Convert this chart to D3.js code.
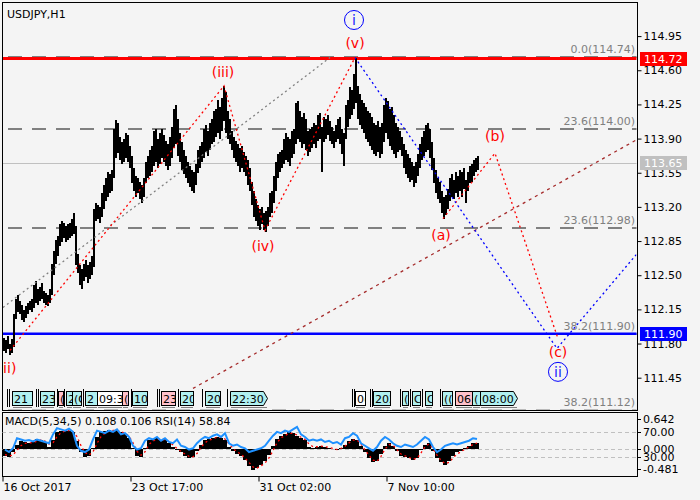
<!DOCTYPE html>
<html><head><meta charset="utf-8">
<script src="https://cdn.jsdelivr.net/npm/d3@7"></script>
<style>
html,body{margin:0;padding:0;background:#f4f4f4;}
svg{display:block;font-family:"DejaVu Sans",sans-serif;}
</style></head><body>
<svg id="chart" width="700" height="500"></svg>
<script>
// ---------------- data ----------------
const chartTitle = "USDJPY,H1";
// 2-hour price bars from 16 Oct 2017 (lows / highs)
const barLow = [
111.72,111.70,111.74,111.68,111.70,111.76,112.05,112.12,112.10,112.04,
112.02,112.06,112.10,112.14,112.12,112.16,112.22,112.20,112.24,112.26,
112.22,112.20,112.18,112.22,112.30,112.50,112.62,112.70,112.80,112.84,
112.88,112.84,112.86,112.88,112.90,112.92,112.60,112.52,112.40,112.36,
112.44,112.48,112.42,112.46,112.50,112.58,113.06,113.08,113.04,113.10,
113.18,113.26,113.30,113.34,113.36,113.50,113.70,113.75,113.68,113.64,
113.66,113.70,113.66,113.60,113.44,113.36,113.30,113.34,113.28,113.24,
113.30,113.44,113.50,113.52,113.56,113.62,113.66,113.60,113.64,113.70,
113.66,113.62,113.58,113.62,113.70,113.80,113.84,113.72,113.66,113.58,
113.54,113.50,113.44,113.40,113.36,113.34,113.42,113.55,113.60,113.66,
113.70,113.76,113.72,113.78,113.84,113.86,113.92,113.96,113.90,113.98,
114.08,113.96,113.90,113.84,113.78,113.70,113.66,113.62,113.56,113.60,
113.56,113.52,113.42,113.36,113.22,113.10,113.06,113.00,112.96,113.02,
112.96,112.94,113.00,113.10,113.14,113.24,113.36,113.50,113.56,113.60,
113.64,113.68,113.66,113.62,113.70,113.74,113.84,113.90,113.86,113.80,
113.84,113.78,113.72,113.76,113.80,113.84,113.80,113.88,113.90,113.56,
113.86,113.90,113.94,113.88,113.84,113.80,113.86,113.90,113.84,113.74,
113.62,113.90,114.02,114.10,114.14,114.20,114.26,114.10,114.04,114.00,
113.96,113.90,113.86,113.82,113.78,113.74,113.72,113.76,113.70,113.74,
113.86,113.96,113.90,113.82,113.78,113.74,113.70,113.76,113.78,113.72,
113.60,113.54,113.50,113.46,113.48,113.40,113.44,113.52,113.60,113.68,
113.72,113.76,113.78,113.70,113.58,113.44,113.34,113.28,113.24,113.14,
113.08,113.12,113.18,113.26,113.30,113.28,113.34,113.30,113.36,113.30,
113.38,113.24,113.36,113.44,113.46,113.52,113.56,113.58];
const barHigh = [
111.86,111.84,111.88,111.80,111.85,112.10,112.26,112.30,112.24,112.20,
112.14,112.18,112.22,112.24,112.26,112.40,112.44,112.36,112.38,112.42,
112.34,112.32,112.30,112.36,112.62,112.75,112.86,112.90,113.02,113.06,
113.04,113.00,113.02,113.04,113.08,113.14,113.00,112.72,112.60,112.56,
112.62,112.66,112.60,112.64,112.70,113.18,113.24,113.22,113.20,113.34,
113.42,113.50,113.56,113.54,113.58,114.00,114.09,114.06,113.92,113.86,
113.90,113.96,113.94,113.82,113.72,113.60,113.52,113.50,113.46,113.42,
113.50,113.66,113.72,113.78,113.82,113.98,114.00,113.90,113.96,114.00,
113.94,113.88,113.84,113.92,114.02,114.20,114.24,114.10,113.96,113.86,
113.78,113.72,113.66,113.62,113.58,113.56,113.64,113.78,113.82,113.86,
114.00,114.04,113.98,114.06,114.10,114.18,114.20,114.30,114.22,114.32,
114.44,114.38,114.18,114.10,113.98,113.92,113.88,113.84,113.80,113.82,
113.76,113.72,113.68,113.60,113.46,113.36,113.28,113.22,113.18,113.20,
113.14,113.16,113.20,113.34,113.36,113.52,113.66,113.74,113.76,113.78,
113.90,113.96,113.92,113.90,113.98,114.00,114.26,114.28,114.18,114.12,
114.16,114.10,113.98,114.00,114.02,114.06,114.04,114.14,114.16,114.02,
114.12,114.10,114.14,114.08,114.02,113.98,114.04,114.10,114.12,114.00,
113.96,114.24,114.30,114.43,114.40,114.56,114.73,114.44,114.36,114.30,
114.26,114.22,114.18,114.16,114.12,114.06,114.04,114.08,114.02,114.06,
114.24,114.32,114.28,114.20,114.22,114.14,114.06,114.02,113.98,113.92,
113.84,113.78,113.74,113.70,113.66,113.62,113.66,113.74,113.84,113.92,
113.98,114.04,114.06,114.00,113.86,113.70,113.58,113.50,113.46,113.36,
113.30,113.32,113.38,113.50,113.54,113.48,113.56,113.52,113.58,113.56,
113.60,113.48,113.56,113.62,113.64,113.68,113.70,113.72];
const lastPrice = 113.65;

// 4-hour oscillator samples
const macdMain = [
-0.12,-0.14,-0.06,0.08,0.14,0.12,0.10,0.12,0.18,0.16,
0.12,0.04,0.16,0.30,0.33,0.34,0.32,0.30,0.14,-0.06,
-0.14,-0.12,0.02,0.22,0.30,0.32,0.34,0.33,0.34,0.30,
0.26,0.20,0.02,-0.12,-0.14,0.02,0.16,0.18,0.20,0.16,
0.18,0.10,0.04,-0.02,-0.06,-0.12,-0.16,-0.14,-0.04,0.08,
0.16,0.18,0.20,0.22,0.20,0.16,0.04,-0.04,-0.08,-0.12,
-0.20,-0.30,-0.37,-0.34,-0.28,-0.22,-0.10,0.06,0.18,0.24,
0.26,0.30,0.28,0.24,0.20,0.16,0.04,0.02,0.04,0.06,
0.04,0.02,0.00,-0.02,0.02,0.08,0.14,0.18,0.16,0.06,
-0.06,-0.16,-0.24,-0.22,-0.08,0.06,0.10,0.06,-0.04,-0.12,
-0.14,-0.16,-0.20,-0.16,-0.02,0.08,0.10,-0.04,-0.16,-0.24,
-0.28,-0.22,-0.12,-0.06,-0.04,0.02,0.06,0.10,0.108];
const macdSignal = [
-0.10,-0.12,-0.11,-0.02,0.06,0.10,0.11,0.11,0.14,0.16,
0.14,0.09,0.11,0.22,0.29,0.32,0.33,0.31,0.22,0.06,
-0.06,-0.11,-0.05,0.10,0.22,0.28,0.32,0.33,0.33,0.31,
0.28,0.23,0.11,-0.04,-0.11,-0.05,0.08,0.14,0.18,0.17,
0.17,0.13,0.07,0.01,-0.04,-0.09,-0.13,-0.14,-0.08,0.03,
0.11,0.16,0.18,0.21,0.21,0.18,0.09,0.01,-0.05,-0.09,
-0.16,-0.24,-0.32,-0.34,-0.30,-0.25,-0.16,-0.03,0.11,0.20,
0.24,0.28,0.28,0.25,0.21,0.17,0.09,0.04,0.04,0.05,
0.04,0.03,0.01,-0.01,0.01,0.05,0.11,0.16,0.16,0.09,
-0.02,-0.11,-0.20,-0.22,-0.13,0.00,0.08,0.07,-0.01,-0.09,
-0.12,-0.15,-0.18,-0.17,-0.07,0.04,0.09,0.01,-0.11,-0.20,
-0.26,-0.24,-0.16,-0.09,-0.05,0.00,0.04,0.08,0.106];
const rsiValues = [
42,38,44,60,58,56,57,55,58,56,
54,52,66,76,74,72,75,70,48,40,
38,42,58,72,70,68,72,70,74,66,
68,62,48,42,44,56,60,58,62,56,
60,54,52,58,48,46,42,44,52,58,
62,60,64,66,62,68,52,48,50,46,
44,38,40,42,44,48,56,64,70,68,
72,70,74,78,66,62,56,58,56,58,
54,56,52,54,50,60,62,68,64,52,
48,44,40,46,56,62,58,52,48,46,
50,48,46,50,56,62,58,46,38,42,
48,50,52,50,52,54,56,60,58.84];

// price axis
const priceTicks = [111.45,111.80,112.15,112.50,112.85,113.20,113.55,113.90,114.25,114.60,114.95];
// time axis (hour offsets from the first bar)
const timeTickHours = [0,128,256,384];
const timeTickLabels = ["16 Oct 2017","23 Oct 17:00","31 Oct 02:00","7 Nov 10:00"];

// Fibonacci levels
const fibLevels = [114.74,114.00,112.98,111.90,111.12];
const fibLabels = ["0.0(114.74)","23.6(114.00)","23.6(112.98)","38.2(111.90)","38.2(111.12)"];
const resistanceLevel = 114.72;
const supportLevel = 111.90;

// wave paths as [hour, price]
const impulseWaves = [[8,111.73],[222,114.44],[263,112.96],[353,114.73]];
const abcWaves = [[441,113.08],[493,113.75],[556,111.85]];
const majorWaves = [[353,114.73],[555,111.75],[635,112.72]];
const channelLine = [[1,112.17],[328,114.73]];
const trendLine = [[191,111.34],[635,113.89]];

// wave labels [hour, price, text]
const waveLabels = [
  [5,111.55,"(ii)"],[221,114.58,"(iii)"],[261,112.80,"(iv)"],[353,114.88,"(v)"],
  [439,112.91,"(a)"],[493,113.93,"(b)"],[556,111.71,"(c)"]];
const circleLabels = [[352,115.115,"i"],[556,111.51,"ii"]];

// time-marker tags along the bottom of the price pane
const markerLines = [7,9,36,38,57,64,83,131,157,159,178,202,227,352,354,370,372,400,410,422,440];
const markerTags = [
  [12,20,"21","c"],[40,14,"23","c"],[58,5,"(","p"],[66,6,"2(","c"],[72,9,"(C","c"],
  [85,12,"2","c"],[97,25,"09:3","w"],[122,6,"(","p"],[132,15,"10:","c"],[161,14,"23","p"],
  [180,13,"202","c"],[205,15,"202","c"],[230,37,"22:30","c"],
  [355,10,"0(","w"],[373,17,"202","c"],[402,6,"(C","c"],[412,8,"C(","c"],[425,7,"C","c"],
  [442,10,"((","c"],[455,17,"06:","p"],[472,8,"(","c"],[480,37,"08:00","c"]];
const tagFill = {c:"#b0f0f0", p:"#ffc0cb", w:"#ffffff"};

// ---------------- drawing ----------------
const svg = d3.select("#chart");
const pane = {left:2, right:637, top:2, bottom:410};
const subPane = {top:412, bottom:476};

const x = d3.scaleLinear().domain([0,635]).range([2,637]);
const y = d3.scaleLinear().domain([111.45,114.95]).range([377.7,36.1]);
const ym = d3.scaleLinear().domain([-0.481,0.642]).range([476,413]);
const yr = d3.scaleLinear().domain([0,100]).range([476,413]);

svg.append("rect").attr("width",700).attr("height",500).attr("fill","#f4f4f4");

const defs = svg.append("defs");
defs.append("clipPath").attr("id","mainClip").append("rect")
  .attr("x",pane.left+0.5).attr("y",pane.top+0.5)
  .attr("width",pane.right-pane.left-1).attr("height",pane.bottom-pane.top-1);
defs.append("clipPath").attr("id","subClip").append("rect")
  .attr("x",pane.left+0.5).attr("y",subPane.top+0.5)
  .attr("width",pane.right-pane.left-1).attr("height",subPane.bottom-subPane.top-1);

const main = svg.append("g").attr("clip-path","url(#mainClip)");

// Fibonacci dashed levels
main.selectAll("line.fib").data(fibLevels).join("line")
  .attr("x1",pane.left+6).attr("x2",pane.right)
  .attr("y1",d=>Math.round(y(d))).attr("y2",d=>Math.round(y(d)))
  .attr("stroke","#808080").attr("stroke-width",2).attr("stroke-dasharray","14,10");
main.selectAll("text.fib").data(fibLevels).join("text")
  .attr("x",pane.right-2).attr("y",d=>Math.round(y(d))-4)
  .attr("text-anchor","end").attr("font-size",11).attr("fill","#808080")
  .text((d,i)=>fibLabels[i]);

// last price line
main.append("line").attr("x1",pane.left).attr("x2",pane.right)
  .attr("y1",Math.round(y(lastPrice))+0.5).attr("y2",Math.round(y(lastPrice))+0.5)
  .attr("stroke","#c0c0c0").attr("stroke-width",1);

// resistance / support
const rY = Math.round(y(resistanceLevel)) - 0.5;
main.append("line").attr("x1",pane.left).attr("x2",pane.right)
  .attr("y1",rY).attr("y2",rY)
  .attr("stroke","#ff0000").attr("stroke-width",3);
main.append("line").attr("x1",pane.left).attr("x2",pane.right)
  .attr("y1",y(supportLevel)).attr("y2",y(supportLevel))
  .attr("stroke","#0000ff").attr("stroke-width",2.5);

// price bars
main.append("g").selectAll("rect").data(barLow).join("rect")
  .attr("x",(d,i)=>x(1+2*i)).attr("width",x(3)-x(1))
  .attr("y",(d,i)=>y(barHigh[i])).attr("height",(d,i)=>Math.max(1,y(d)-y(barHigh[i])))
  .attr("fill","#000").attr("shape-rendering","crispEdges");

// wave lines
const ln = d3.line().x(d=>x(d[0])).y(d=>y(d[1]));
function dotted(data,color,dash){
  main.append("path").attr("d",ln(data)).attr("fill","none")
    .attr("stroke",color).attr("stroke-width",1.3).attr("stroke-dasharray",dash);
}
dotted(channelLine,"#808080","2,3");
dotted(trendLine,"#a52a2a","3,4");
dotted(impulseWaves,"#ff0000","2,3");
dotted(abcWaves,"#ff0000","2,3");
dotted(majorWaves,"#0000ff","2,3");

// wave labels
main.selectAll("text.wave").data(waveLabels).join("text")
  .attr("x",d=>x(d[0])).attr("y",d=>y(d[1])).attr("dy","0.35em")
  .attr("text-anchor","middle").attr("font-size",14).attr("fill","#ff0000").text(d=>d[2]);
const circ = main.selectAll("g.circ").data(circleLabels).join("g")
  .attr("transform",d=>`translate(${x(d[0])},${y(d[1])})`);
circ.append("circle").attr("r",9.5).attr("fill","none").attr("stroke","#0000ff").attr("stroke-width",1);
circ.append("text").attr("dy","0.36em").attr("text-anchor","middle")
  .attr("font-size",14).attr("fill","#1a1aff").text(d=>d[2]);

// title
svg.append("text").attr("x",7).attr("y",18).attr("font-size",11).attr("fill","#000").text(chartTitle);

// time-marker tags
const tags = svg.append("g");
tags.selectAll("line").data(markerLines).join("line")
  .attr("x1",d=>d+0.5).attr("x2",d=>d+0.5).attr("y1",389).attr("y2",407)
  .attr("stroke","#000").attr("stroke-width",1);
markerTags.forEach((t,i)=>{
  const [tx,tw,tt,tf] = t;
  const cid = "tagclip"+i;
  defs.append("clipPath").attr("id",cid).append("rect").attr("x",tx).attr("y",390).attr("width",tw).attr("height",16);
  const g = tags.append("g");
  if (tt.length===5){
    g.append("path").attr("d",`M${tx+0.5},391.5H${tx+tw-3.5}L${tx+tw+0.5},398.5L${tx+tw-3.5},405.5H${tx+0.5}Z`)
      .attr("fill",tagFill[tf]).attr("stroke","#000");
    g.append("text").attr("x",tx+2).attr("y",402.5).attr("font-size",11).text(tt);
  } else {
    g.append("rect").attr("x",tx+0.5).attr("y",391.5).attr("width",tw).attr("height",14)
      .attr("fill",tagFill[tf]).attr("stroke","#000");
    g.append("text").attr("x",tx+2).attr("y",402.5).attr("font-size",11).attr("clip-path",`url(#${cid})`).text(tt);
  }
  g.append("line").attr("x1",tx+1).attr("x2",tx+tw).attr("y1",407.5).attr("y2",407.5).attr("stroke","#808080");
});

// pane frames
svg.append("rect").attr("x",pane.left+0.5).attr("y",pane.top+0.5)
  .attr("width",pane.right-pane.left).attr("height",pane.bottom-pane.top)
  .attr("fill","none").attr("stroke","#000");
svg.append("rect").attr("x",pane.left+0.5).attr("y",subPane.top+0.5)
  .attr("width",pane.right-pane.left).attr("height",subPane.bottom-subPane.top)
  .attr("fill","none").attr("stroke","#000");

// price axis
const yAxis = d3.axisRight(y).tickValues(priceTicks).tickSize(4).tickPadding(2).tickFormat(d3.format(".2f"));
const ag = svg.append("g").attr("transform",`translate(${pane.right+0.5},0)`).call(yAxis);
ag.select(".domain").remove();
ag.selectAll("line").attr("stroke","#000");
ag.selectAll("text").attr("font-size",11).attr("font-family","DejaVu Sans").attr("fill","#000");

// price tags on the axis
function priceTag(v,fill){
  const yy = Math.round(y(v));
  svg.append("rect").attr("x",640).attr("y",yy-7).attr("width",47).attr("height",14).attr("fill",fill);
  svg.append("text").attr("x",644).attr("y",yy).attr("dy","0.35em").attr("font-size",11)
    .attr("fill","#fff").text(v.toFixed(2));
}
priceTag(resistanceLevel,"#ff0000");
priceTag(lastPrice,"#c0c0c0");
priceTag(supportLevel,"#0000ff");

// ---------------- oscillator pane ----------------
const sub = svg.append("g").attr("clip-path","url(#subClip)");
[70,30].forEach(v=>{
  sub.append("line").attr("x1",pane.left).attr("x2",pane.right)
    .attr("y1",Math.round(yr(v))+0.5).attr("y2",Math.round(yr(v))+0.5)
    .attr("stroke","#c0c0c0").attr("stroke-dasharray","4,3");
});
sub.append("line").attr("x1",pane.left).attr("x2",pane.right)
  .attr("y1",Math.round(ym(0))+0.5).attr("y2",Math.round(ym(0))+0.5)
  .attr("stroke","#c0c0c0").attr("stroke-dasharray","4,3");

sub.append("g").selectAll("rect").data(macdMain).join("rect")
  .attr("x",(d,i)=>x(1+4*i)).attr("width",x(5)-x(1))
  .attr("y",d=>Math.min(ym(d),ym(0))).attr("height",d=>Math.abs(ym(d)-ym(0)))
  .attr("fill","#000").attr("shape-rendering","crispEdges");
const sl = d3.line().x((d,i)=>x(3+4*i)).y(d=>ym(d));
sub.append("path").attr("d",sl(macdSignal)).attr("fill","none")
  .attr("stroke","#ff0000").attr("stroke-width",1.3).attr("stroke-dasharray","2,3");
const rl = d3.line().x((d,i)=>x(3+4*i)).y(d=>yr(d));
sub.append("path").attr("d",rl(rsiValues)).attr("fill","none")
  .attr("stroke","#1e90ff").attr("stroke-width",2);

svg.append("text").attr("x",5).attr("y",425).attr("font-size",11)
  .text(`MACD(5,34,5) ${macdMain[macdMain.length-1].toFixed(3)} ${macdSignal[macdSignal.length-1].toFixed(3)} RSI(14) ${rsiValues[rsiValues.length-1].toFixed(2)}`);

// oscillator axis labels
const subTicks = [[ym(0.642)+6,"0.642"],[yr(70),"70.00"],[ym(0),"0.000"],[yr(30),"30.00"],[ym(-0.481)-7,"-0.481"]];
subTicks.forEach(([yy,t])=>{
  svg.append("line").attr("x1",pane.right).attr("x2",pane.right+4)
    .attr("y1",Math.round(yy)+0.5).attr("y2",Math.round(yy)+0.5).attr("stroke","#000");
  svg.append("text").attr("x",643).attr("y",yy).attr("dy","0.35em").attr("font-size",11).text(t);
});

// time axis
const xAxis = d3.axisBottom(x).tickValues(timeTickHours).tickSize(5)
  .tickFormat((d,i)=>timeTickLabels[i]);
const xg = svg.append("g").attr("transform",`translate(0,${subPane.bottom+0.5})`).call(xAxis);
xg.select(".domain").remove();
xg.selectAll("line").attr("stroke","#000").attr("transform","translate(0.5,0)");
xg.selectAll("text").attr("text-anchor","start").attr("x",1).attr("y",7)
  .attr("font-size",11).attr("font-family","DejaVu Sans").attr("fill","#000");
</script>
</body></html>
